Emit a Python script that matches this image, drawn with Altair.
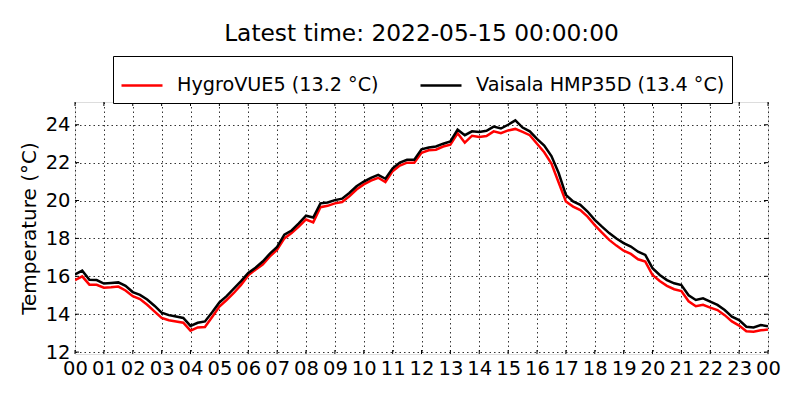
import altair as alt
import pandas as pd

# time of day in hours, 15-minute sampling
hours = [i * 0.25 for i in range(97)]

vaisala = [
    16.10, 16.30, 15.82, 15.80, 15.62, 15.65, 15.68, 15.50,
    15.17, 15.02, 14.78, 14.45, 14.08, 13.95, 13.88, 13.80,
    13.38, 13.55, 13.62, 14.10, 14.62, 14.95, 15.35, 15.75,
    16.18, 16.45, 16.78, 17.20, 17.55, 18.20, 18.42, 18.80,
    19.20, 19.10, 19.85, 19.90, 20.02, 20.10, 20.40, 20.75,
    21.00, 21.20, 21.35, 21.15, 21.70, 22.00, 22.15, 22.15,
    22.70, 22.80, 22.85, 23.00, 23.12, 23.74, 23.45, 23.65,
    23.62, 23.68, 23.90, 23.80, 24.00, 24.23, 23.85, 23.65,
    23.25, 22.90, 22.35, 21.45, 20.30, 19.95, 19.77, 19.42,
    18.98, 18.62, 18.28, 18.00, 17.75, 17.57, 17.30, 17.13,
    16.43, 16.07, 15.80, 15.63, 15.54, 15.00, 14.75, 14.84,
    14.66, 14.49, 14.22, 13.87, 13.69, 13.34, 13.30, 13.43,
    13.37,
]

hygrovue = [
    15.80, 16.00, 15.56, 15.55, 15.40, 15.42, 15.46, 15.25,
    14.95, 14.80, 14.50, 14.15, 13.80, 13.68, 13.62, 13.55,
    13.13, 13.30, 13.32, 13.85, 14.40, 14.75, 15.12, 15.55,
    16.05, 16.35, 16.62, 17.05, 17.40, 18.00, 18.28, 18.62,
    19.00, 18.85, 19.65, 19.72, 19.85, 19.92, 20.22, 20.58,
    20.85, 21.05, 21.20, 20.98, 21.55, 21.85, 22.00, 22.00,
    22.52, 22.65, 22.68, 22.85, 22.95, 23.55, 23.05, 23.42,
    23.35, 23.40, 23.65, 23.55, 23.70, 23.78, 23.62, 23.45,
    23.00, 22.55, 21.95, 20.95, 19.95, 19.68, 19.50, 19.15,
    18.70, 18.30, 17.92, 17.62, 17.35, 17.18, 16.90, 16.78,
    16.07, 15.75, 15.50, 15.32, 15.22, 14.68, 14.42, 14.50,
    14.35, 14.22, 13.95, 13.62, 13.40, 13.10, 13.08, 13.15,
    13.20,
]

series_names = ["HygroVUE5 (13.2 °C)", "Vaisala HMP35D (13.4 °C)"]
series_colors = ["#ff0000", "#000000"]
x_ticks = list(range(25))
y_ticks = [12, 14, 16, 18, 20, 22, 24]

W, H = 693, 252
FONT = "DejaVu Sans"

df = pd.DataFrame(
    {"h": hours * 2,
     "t": hygrovue + vaisala,
     "s": [series_names[0]] * len(hours) + [series_names[1]] * len(hours)}
)
xt = pd.DataFrame({"h": x_ticks})
yt = pd.DataFrame({"t": y_ticks})

xscale = alt.Scale(domain=[0, 24], nice=False, zero=False)
yscale = alt.Scale(domain=[11.9, 25.2], nice=False, zero=False)

x_enc = alt.X(
    "h:Q", scale=xscale, title=None,
    axis=alt.Axis(
        values=x_ticks,
        labelExpr="(datum.value % 24 < 10 ? '0' : '') + (datum.value % 24)",
        ticks=False, domain=False, labelPadding=5, labelFontSize=19.5,
        labelFont=FONT, labelColor="black", labelOverlap=False, labelFlush=False,
        grid=True, gridDash=[1.5, 3], gridColor="black", gridWidth=0.8,
    ),
)
y_enc = alt.Y(
    "t:Q", scale=yscale, title="Temperature (°C)",
    axis=alt.Axis(
        values=y_ticks, ticks=False, domain=False, labelPadding=5,
        labelFontSize=19.5, labelFont=FONT, labelColor="black",
        titleFontSize=20, titleFont=FONT, titleFontWeight="normal",
        titleColor="black", titlePadding=6,
        grid=True, gridDash=[1.5, 3], gridColor="black", gridWidth=0.8,
    ),
)
color_enc = alt.Color(
    "s:N",
    scale=alt.Scale(domain=series_names, range=series_colors),
    legend=alt.Legend(
        title=None, orient="none", legendX=38, legendY=-46,
        direction="horizontal", symbolType="stroke", symbolStrokeWidth=2.5,
        symbolSize=1681, labelFontSize=19.2, labelFont=FONT, labelColor="black",
        labelOffset=13, columnPadding=36, padding=7, strokeColor="black",
        fillColor="white", cornerRadius=0, labelLimit=500,
    ),
)

base = alt.Chart(df)
red_line = base.transform_filter(alt.datum.s == series_names[0]).mark_line(
    strokeWidth=2.5, clip=True
).encode(x=x_enc, y=y_enc, color=color_enc)
black_line = base.transform_filter(alt.datum.s == series_names[1]).mark_line(
    strokeWidth=2.5, clip=True
).encode(x=x_enc, y=y_enc, color=color_enc)

tick_b = alt.Chart(xt).mark_rule(color="black", strokeWidth=1).encode(
    x=x_enc, y=alt.value(H), y2=alt.value(H - 4))
tick_t = alt.Chart(xt).mark_rule(color="black", strokeWidth=1).encode(
    x=x_enc, y=alt.value(0), y2=alt.value(4))
tick_l = alt.Chart(yt).mark_rule(color="black", strokeWidth=1).encode(
    y=y_enc, x=alt.value(0), x2=alt.value(4))
tick_r = alt.Chart(yt).mark_rule(color="black", strokeWidth=1).encode(
    y=y_enc, x=alt.value(W), x2=alt.value(W - 4))

chart = alt.layer(red_line, black_line, tick_b, tick_t, tick_l, tick_r).properties(
    width=W, height=H,
    title=alt.TitleParams(
        "Latest time: 2022-05-15 00:00:00", fontSize=23.3, font=FONT,
        fontWeight="normal", color="black", anchor="middle", offset=9,
    ),
    autosize=alt.AutoSizeParams(type="none"),
    padding={"left": 67, "top": 94, "right": 24, "bottom": 30},
).configure_view(stroke="black", strokeWidth=1.5).configure(background="white")

chart.save("out.html", embed_options={"renderer": "svg", "actions": False})
